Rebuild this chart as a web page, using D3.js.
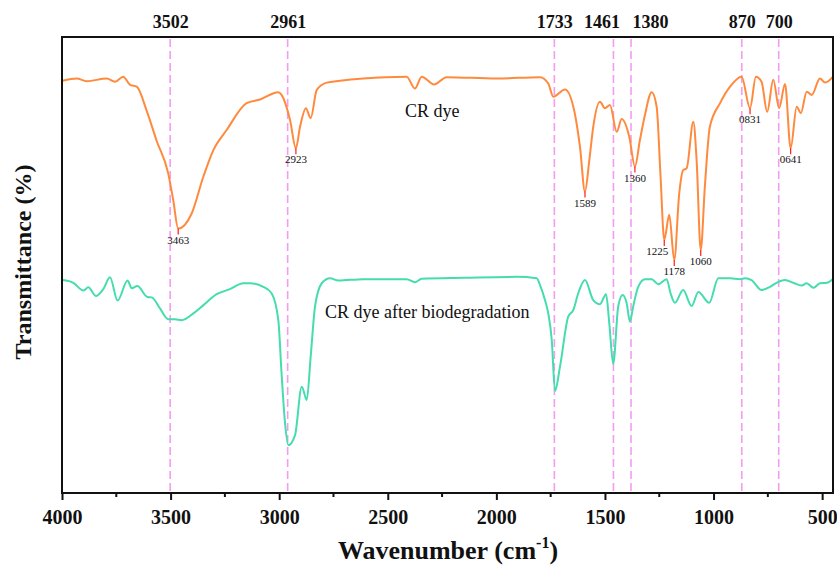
<!DOCTYPE html>
<html>
<head>
<meta charset="utf-8">
<script src="https://cdn.jsdelivr.net/npm/d3@7"></script>
<style>
  body { margin: 0; background: #fff; }
  svg { display: block; }
  text { font-family: "Liberation Serif", "Times New Roman", serif; }
</style>
</head>
<body>
<div id="chart"></div>
<script>
const width = 837;
const height = 565;

// CR dye spectrum (wavenumber, transmittance %)
const dyeWn = [3997, 3932, 3886, 3794, 3756, 3718, 3687, 3656, 3610, 3564, 3511, 3488, 3465, 3403, 3349, 3303, 3242, 3150, 3088, 3004, 2989, 2950, 2923, 2904, 2877, 2855, 2827, 2781, 2720, 2613, 2413, 2375, 2344, 2287, 2229, 1999, 1799, 1761, 1738, 1684, 1640, 1615, 1592, 1572, 1554, 1523, 1500, 1477, 1446, 1423, 1388, 1362, 1339, 1316, 1285, 1262, 1244, 1227, 1204, 1181, 1158, 1140, 1124, 1093, 1078, 1059, 1040, 1017, 970, 924, 871, 832, 805, 779, 753, 725, 698, 671, 645, 617, 598, 571, 548, 510, 486, 450];
const dyeT = [90.4, 90.9, 90.3, 90.9, 90.2, 91.3, 89.5, 89.1, 83.8, 77.2, 70.1, 64.3, 58.0, 61.3, 69.4, 75.2, 79.6, 85.5, 86.3, 87.9, 87.3, 81.8, 75.6, 80.3, 84.4, 82.2, 88.4, 90.0, 90.4, 90.9, 91.3, 88.7, 91.3, 89.6, 91.2, 90.9, 91.2, 89.8, 86.9, 88.5, 83.5, 75.9, 66.1, 73.0, 80.3, 85.8, 84.4, 85.1, 79.2, 82.0, 78.1, 71.6, 77.4, 82.9, 87.9, 84.7, 69.4, 55.5, 61.0, 51.1, 65.7, 70.8, 71.2, 81.4, 73.0, 53.3, 67.2, 80.3, 85.5, 89.1, 91.3, 84.4, 91.3, 90.2, 83.6, 90.6, 84.4, 89.7, 75.6, 84.7, 83.3, 88.0, 87.3, 90.9, 90.0, 91.3];

// CR dye after biodegradation
const bioWn = [3997, 3948, 3902, 3879, 3843, 3810, 3779, 3744, 3698, 3679, 3653, 3607, 3587, 3549, 3511, 3480, 3449, 3395, 3349, 3288, 3227, 3165, 3134, 3073, 3035, 3004, 2989, 2973, 2958, 2927, 2896, 2873, 2855, 2835, 2804, 2766, 2728, 2613, 2413, 2375, 2344, 2152, 1907, 1814, 1799, 1776, 1761, 1745, 1730, 1707, 1669, 1646, 1623, 1592, 1554, 1523, 1495, 1480, 1462, 1439, 1419, 1400, 1385, 1370, 1347, 1316, 1285, 1255, 1216, 1198, 1178, 1140, 1101, 1070, 1020, 978, 924, 878, 855, 825, 779, 740, 710, 671, 633, 594, 571, 540, 510, 479, 452];
const bioT = [46.7, 46.1, 44.4, 45.1, 43.2, 44.7, 47.3, 42.2, 46.6, 44.9, 45.4, 43.0, 42.9, 40.5, 38.1, 38.1, 37.9, 39.4, 41.2, 43.6, 44.7, 46.0, 46.0, 45.2, 43.8, 37.9, 26.2, 15.3, 10.5, 12.7, 23.3, 20.4, 29.9, 40.9, 46.0, 47.1, 46.6, 46.9, 46.9, 46.2, 47.0, 47.2, 47.4, 47.1, 45.6, 42.3, 39.4, 33.6, 22.4, 27.7, 38.7, 40.1, 43.8, 46.7, 42.3, 41.4, 43.6, 37.2, 28.3, 40.9, 43.4, 41.6, 37.6, 40.9, 45.2, 46.9, 46.9, 45.8, 46.9, 43.8, 41.7, 44.5, 41.0, 44.1, 41.7, 47.1, 47.1, 46.9, 47.1, 46.7, 44.5, 45.2, 46.1, 46.7, 46.1, 45.5, 46.0, 45.0, 46.0, 46.1, 46.9];

// marked peaks on the CR dye curve
const peakWn = [3463, 2923, 1589, 1360, 1225, 1178, 1060, 831, 641];
const peakLabels = ["3463", "2923", "1589", "1360", "1225", "1178", "1060", "0831", "0641"];

// dashed reference lines (top axis)
const refWn = [3502, 2961, 1733, 1461, 1380, 870, 700];

const xTicks = [4000, 3500, 3000, 2500, 2000, 1500, 1000, 500];
const xMinor = [3750, 3250, 2750, 2250, 1750, 1250, 750];

const plotLeft = 62, plotRight = 833, plotTop = 37, plotBottom = 493;

const svg = d3.select("#chart").append("svg")
  .attr("width", width)
  .attr("height", height);

const x = d3.scaleLinear().domain([4000, 450]).range([plotLeft, plotRight]);
const y = d3.scaleLinear().domain([0, 100]).range([plotBottom, plotTop]);

// reference lines
svg.append("g")
  .selectAll("line")
  .data(refWn)
  .join("line")
  .attr("x1", d => x(d))
  .attr("x2", d => x(d))
  .attr("y1", plotTop + 2)
  .attr("y2", plotBottom)
  .attr("stroke", "#f59cf2")
  .attr("stroke-width", 1.6)
  .attr("stroke-dasharray", "8,4");

const line = d3.line()
  .x(d => x(d[0]))
  .y(d => y(d[1]))
  .curve(d3.curveMonotoneX);

const dye = dyeWn.map((w, i) => [w, dyeT[i]]);
const bio = bioWn.map((w, i) => [w, bioT[i]]);

svg.append("path")
  .datum(bio)
  .attr("d", line)
  .attr("fill", "none")
  .attr("stroke", "#45dcae")
  .attr("stroke-width", 2);

svg.append("path")
  .datum(dye)
  .attr("d", line)
  .attr("fill", "none")
  .attr("stroke", "#ff8a3d")
  .attr("stroke-width", 2);

// peak markers + labels
const labelShift = { "1225": -7 };
peakWn.forEach((p, i) => {
  const near = dye.filter(d => Math.abs(d[0] - p) <= 20);
  const lowest = d3.least(near, d => d[1]);
  const px = x(lowest[0]);
  const py = y(lowest[1]);
  svg.append("line")
    .attr("x1", px).attr("x2", px)
    .attr("y1", py).attr("y2", py + 6)
    .attr("stroke", "#ff1a1a")
    .attr("stroke-width", 1.2);
  svg.append("text")
    .attr("x", px + (labelShift[peakLabels[i]] || 0))
    .attr("y", py + 15)
    .attr("text-anchor", "middle")
    .attr("font-size", "11px")
    .attr("fill", "#111")
    .text(peakLabels[i]);
});

// series labels
svg.append("text")
  .attr("x", 405)
  .attr("y", 117)
  .attr("font-size", "18px")
  .attr("fill", "#111")
  .text("CR dye");

svg.append("text")
  .attr("x", 325)
  .attr("y", 318)
  .attr("font-size", "18px")
  .attr("fill", "#111")
  .text("CR dye after biodegradation");

// frame
svg.append("rect")
  .attr("x", plotLeft)
  .attr("y", plotTop)
  .attr("width", plotRight - plotLeft)
  .attr("height", plotBottom - plotTop)
  .attr("fill", "none")
  .attr("stroke", "#111")
  .attr("stroke-width", 2);

// bottom axis
const xAxis = svg.append("g")
  .attr("transform", `translate(0,${plotBottom})`)
  .call(d3.axisBottom(x).tickValues(xTicks).tickSize(7).tickPadding(10).tickFormat(d3.format("d")));
xAxis.select(".domain").remove();
xAxis.selectAll(".tick line").attr("stroke", "#111").attr("stroke-width", 2);
xAxis.selectAll("text")
  .attr("font-size", "20px")
  .attr("font-weight", "bold")
  .attr("fill", "#111");

svg.append("g")
  .selectAll("line")
  .data(xMinor)
  .join("line")
  .attr("x1", d => x(d))
  .attr("x2", d => x(d))
  .attr("y1", plotBottom)
  .attr("y2", plotBottom + 4)
  .attr("stroke", "#111")
  .attr("stroke-width", 2);

// top axis with reference values; crowded labels nudged apart
const topShift = { 1461: -12, 1380: 19 };
const topAxis = svg.append("g")
  .attr("transform", `translate(0,${plotTop})`)
  .call(d3.axisTop(x).tickValues(refWn).tickSize(0).tickPadding(9).tickFormat(d3.format("d")));
topAxis.select(".domain").remove();
topAxis.selectAll("text")
  .attr("dx", d => topShift[d] || 0)
  .attr("font-size", "18px")
  .attr("font-weight", "bold")
  .attr("fill", "#111");

// axis titles
svg.append("text")
  .attr("transform", "translate(31,262) rotate(-90)")
  .attr("text-anchor", "middle")
  .attr("font-size", "24px")
  .attr("font-weight", "bold")
  .attr("fill", "#111")
  .text("Transmittance (%)");

const xt = svg.append("text")
  .attr("x", 448)
  .attr("y", 559)
  .attr("text-anchor", "middle")
  .attr("font-size", "26px")
  .attr("font-weight", "bold")
  .attr("fill", "#111");
xt.append("tspan").text("Wavenumber (cm");
xt.append("tspan").attr("font-size", "16px").attr("dy", -11).text("-1");
xt.append("tspan").attr("dy", 11).text(")");
</script>
</body>
</html>
